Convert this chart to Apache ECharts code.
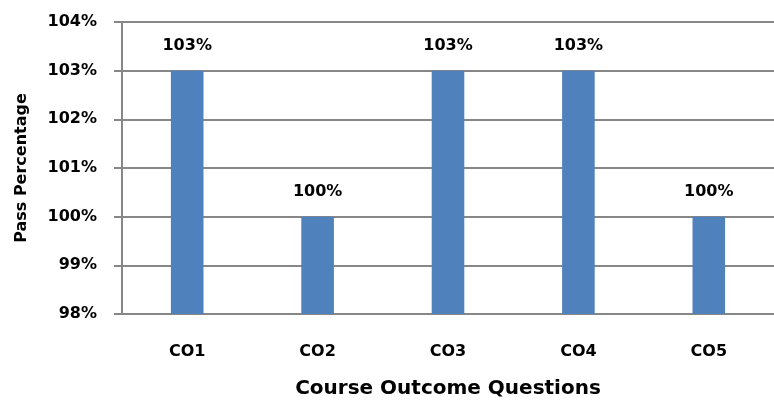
<!DOCTYPE html>
<html>
<head>
<meta charset="utf-8">
<script src="https://cdn.jsdelivr.net/npm/echarts@6/dist/echarts.min.js"></script>
<style>
  html, body { margin: 0; padding: 0; background: #fff; }
  #chart { width: 774px; height: 404px; }
</style>
</head>
<body>
<div id="chart"></div>
<script>
// course outcomes on the x axis
const categories = ['CO1', 'CO2', 'CO3', 'CO4', 'CO5'];
// pass percentage per outcome
const passValues = [103, 100, 103, 103, 100];
// y axis range
const yMin = 98;
const yMax = 104;
const yStep = 1;

const font = '"DejaVu Sans", Verdana, sans-serif';
const gridColor = '#878787';

const chart = echarts.init(document.getElementById('chart'));
chart.setOption({
  animation: false,
  grid: { left: 122, top: 22, bottom: 82, right: -9 },
  xAxis: {
    type: 'category',
    data: categories,
    name: 'Course Outcome Questions',
    nameLocation: 'middle',
    nameGap: 65,
    nameTextStyle: { fontFamily: font, fontWeight: 'bold', fontSize: 20, color: '#000' },
    axisLine: { lineStyle: { color: gridColor, width: 2 } },
    axisTick: { show: false },
    axisLabel: { fontFamily: font, fontWeight: 'bold', fontSize: 16, color: '#000', margin: 30 }
  },
  yAxis: {
    type: 'value',
    min: yMin,
    max: yMax,
    interval: yStep,
    name: 'Pass Percentage',
    nameLocation: 'middle',
    nameGap: 92,
    nameTextStyle: { fontFamily: font, fontWeight: 'bold', fontSize: 16, color: '#000' },
    axisLine: { show: true, lineStyle: { color: gridColor, width: 2 } },
    axisTick: { show: true, length: 8, lineStyle: { color: gridColor, width: 2 } },
    splitLine: { lineStyle: { color: gridColor, width: 2 } },
    axisLabel: {
      fontFamily: font, fontWeight: 'bold', fontSize: 16, color: '#000', margin: 25,
      formatter: v => v + '%'
    }
  },
  series: [{
    type: 'bar',
    data: passValues,
    barWidth: '25%',
    itemStyle: { color: '#4F81BD' },
    label: {
      show: true,
      position: 'top',
      distance: 17,
      fontFamily: font, fontWeight: 'bold', fontSize: 16, color: '#000',
      formatter: p => p.value + '%'
    }
  }]
});
</script>
</body>
</html>
